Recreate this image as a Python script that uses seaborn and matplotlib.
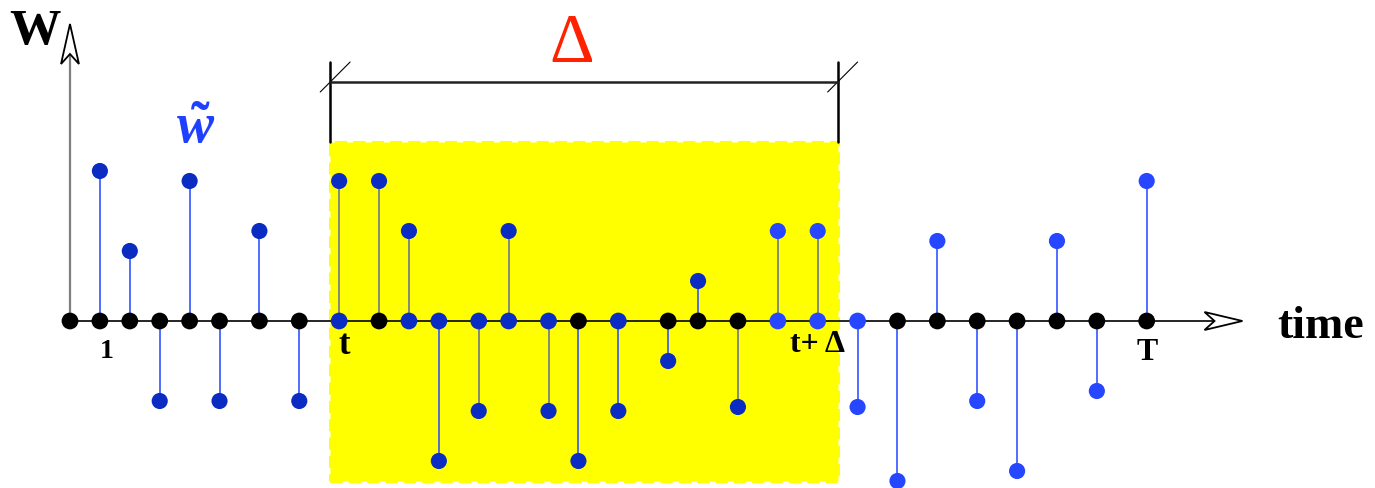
import numpy as np
import pandas as pd
import matplotlib
matplotlib.use("Agg")
import matplotlib.pyplot as plt
from matplotlib.patches import Rectangle, Polygon
import seaborn as sns

# ---- data -----------------------------------------------------------------
time_steps = [0, 3, 6, 9, 12, 15, 19, 23, 27, 31, 34, 37, 41, 44, 48, 51, 55,
              60, 63, 67, 71, 75, 79, 83, 87, 91, 95, 99, 103, 108]
w_tilde = [0, 15, 7, -8, 14, -8, 9, -8, 14, 14, 9, -14, -9, 9, -9, -14, -9,
           -4, 4, -8.6, 9, 9, -8.6, -16, 8, -8, -15, 8, -7, 14]
# colour class of the dot sitting on the time axis
base_shade = ["black"] * 8 + ["dark", "black", "dark", "dark", "dark", "dark",
              "dark", "black", "dark", "black", "black", "black", "bright",
              "bright", "bright"] + ["black"] * 7
# colour class of the dot at the tip of each stem
tip_shade = ["dark"] * 20 + ["bright"] * 10
# colour class of each stem
stem_shade = ["blue"] * 8 + ["gray", "gray", "gray", "blue", "gray", "gray",
              "gray", "blue", "blue", "blue", "blue", "gray", "gray", "gray",
              "blue"] + ["blue"] * 7

window_start, window_end = 26.1, 77.0      # shaded window Δ
window_low, window_high = -16.0, 17.9
tick_labels = ["1", "t", "t+ Δ", "T"]
tick_pos = [3.7, 27.5, 75.0, 108.0]
tick_heights = [-3.0, -2.3, -2.3, -3.0]
tick_sizes = [20, 25, 23, 23]

palette = {"black": "#000000", "dark": "#0b2cc2", "bright": "#2647ff"}
stem_palette = {"blue": "#3355ff", "gray": "#6f7690"}

df = pd.DataFrame({"time": time_steps, "w": w_tilde, "base": base_shade,
                   "tip": tip_shade, "stem": stem_shade})
df["zero"] = 0.0

# ---- figure ---------------------------------------------------------------
sns.set_theme(style="white")
plt.rcParams["font.family"] = ["Liberation Serif", "DejaVu Serif"]
plt.rcParams["text.color"] = "black"
plt.rcParams["mathtext.fontset"] = "custom"
plt.rcParams["mathtext.it"] = "Liberation Serif:italic:bold"
plt.rcParams["mathtext.rm"] = "Liberation Serif:bold"

fig = plt.figure(figsize=(13.75, 4.89), dpi=100)
ax = fig.add_axes([0, 0, 1, 1])

# shaded window
ax.add_patch(Rectangle((window_start, window_low), window_end - window_start,
                       window_high - window_low, facecolor="#ffff00",
                       edgecolor="#ffff00", linewidth=2.2, linestyle=(0, (4, 2)),
                       zorder=0))

# time axis with open arrow head
axis_end = 117.6
ax.plot([0, axis_end - 2.8], [0, 0], color="black", lw=1.2, zorder=1)
ax.add_patch(Polygon([[axis_end, 0], [axis_end - 3.8, 0.9],
                      [axis_end - 2.8, 0], [axis_end - 3.8, -0.9]],
                     closed=True, facecolor="white", edgecolor="black",
                     lw=1.3, zorder=2))
# weight axis
axis_top = 29.7
ax.plot([0, 0], [0, axis_top - 3.0], color="#7f7f7f", lw=1.6, zorder=1)
ax.add_patch(Polygon([[0, axis_top], [0.9, axis_top - 4.0],
                      [0, axis_top - 3.0], [-0.9, axis_top - 4.0]],
                     closed=True, facecolor="white", edgecolor="black",
                     lw=1.3, zorder=2))

# stems
stems = df[df["w"] != 0]
for shade, grp in stems.groupby("stem"):
    ax.vlines(grp["time"], 0, grp["w"], color=stem_palette[shade], lw=1.2,
              zorder=2)

# dots on the axis and at the stem tips
sns.scatterplot(data=df, x="time", y="zero", hue="base", palette=palette,
                s=145, edgecolor="none", legend=False, ax=ax, zorder=3)
sns.scatterplot(data=stems, x="time", y="w", hue="tip", palette=palette,
                s=135, edgecolor="none", legend=False, ax=ax, zorder=3)
ax.set_xlim(-7.02, 130.9)
ax.set_ylim(-16.7, 32.2)
ax.axis("off")

# Δ bracket
bracket_y = 23.9
for xb in (window_start, window_end):
    ax.plot([xb, xb], [window_high, bracket_y + 2.0], color="black", lw=1.8,
            zorder=2)
    ax.plot([xb - 1.0, xb + 2.0], [bracket_y - 1.0, bracket_y + 2.0],
            color="black", lw=0.8, zorder=2)
ax.plot([window_start, window_end], [bracket_y, bracket_y], color="#222222",
        lw=1.8, zorder=2)
ax.text(50.3, 27.7, "Δ", color="#ff2200", fontsize=50, ha="center",
        va="center", family=["Liberation Serif", "DejaVu Serif"])

# labels
ax.text(-3.5, 29.0, "W", fontsize=37, fontweight="bold", ha="center",
        va="center", color="black")
ax.text(12.6, 19.3, r"$\tilde{w}$", color="#2040ff", fontsize=40,
        ha="center", va="center")
ax.text(125.4, -0.5, "time", fontsize=33, fontweight="bold", ha="center",
        va="center", color="black")
for lab, xp, yp, fs in zip(tick_labels, tick_pos, tick_heights, tick_sizes):
    ax.text(xp, yp, lab, fontsize=fs, fontweight="bold", ha="center",
            va="center", color="black")

fig.savefig("out.png", dpi=100)
